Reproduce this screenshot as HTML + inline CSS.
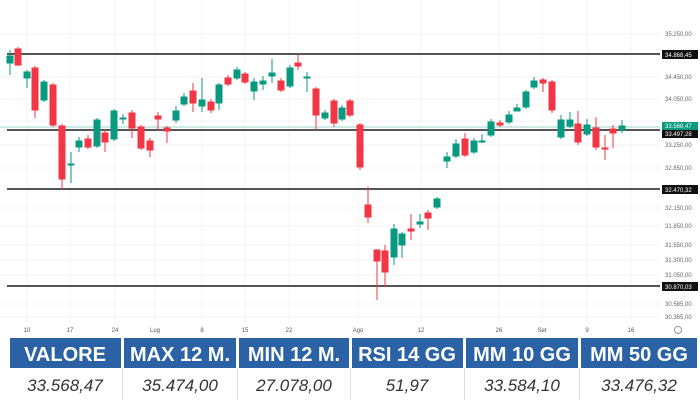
<!DOCTYPE html>
<html><head><meta charset="utf-8"><style>
body{margin:0;width:700px;height:400px;background:#fff;overflow:hidden;font-family:"Liberation Sans",sans-serif}
</style></head><body>
<svg width="700" height="400" xmlns="http://www.w3.org/2000/svg" font-family="Liberation Sans, sans-serif">
<g stroke="#f3f3f6" stroke-width="1">
<line x1="27" y1="0" x2="27" y2="322"/><line x1="70" y1="0" x2="70" y2="322"/><line x1="115" y1="0" x2="115" y2="322"/><line x1="155" y1="0" x2="155" y2="322"/><line x1="202" y1="0" x2="202" y2="322"/><line x1="245" y1="0" x2="245" y2="322"/><line x1="289" y1="0" x2="289" y2="322"/><line x1="358" y1="0" x2="358" y2="322"/><line x1="421" y1="0" x2="421" y2="322"/><line x1="499" y1="0" x2="499" y2="322"/><line x1="542" y1="0" x2="542" y2="322"/><line x1="587" y1="0" x2="587" y2="322"/><line x1="631" y1="0" x2="631" y2="322"/>
<line x1="0" y1="34" x2="660" y2="34"/><line x1="0" y1="77" x2="660" y2="77"/><line x1="0" y1="99" x2="660" y2="99"/><line x1="0" y1="121" x2="660" y2="121"/><line x1="0" y1="145" x2="660" y2="145"/><line x1="0" y1="168" x2="660" y2="168"/><line x1="0" y1="208" x2="660" y2="208"/><line x1="0" y1="226" x2="660" y2="226"/><line x1="0" y1="245" x2="660" y2="245"/><line x1="0" y1="260" x2="660" y2="260"/><line x1="0" y1="275" x2="660" y2="275"/><line x1="0" y1="304" x2="660" y2="304"/><line x1="0" y1="317" x2="660" y2="317"/>
</g>
<line x1="0" y1="127" x2="660" y2="127" stroke="#9fd6cb" stroke-width="1"/>
<g stroke="#555" stroke-width="2">
<line x1="7" y1="54" x2="660" y2="54"/><line x1="7" y1="130" x2="660" y2="130"/><line x1="7" y1="189" x2="660" y2="189"/><line x1="7" y1="286" x2="660" y2="286"/>
</g>
<g id="c">
<!-- green -->
<g fill="#089981" stroke="#089981">
<line x1="10" y1="50" x2="10" y2="75"/><rect x="7" y="56" width="6" height="7"/>
<line x1="27" y1="70" x2="27" y2="88"/><rect x="24" y="72" width="6" height="6"/>
<line x1="44" y1="80" x2="44" y2="102"/><rect x="41" y="82" width="6" height="18"/>
<line x1="71" y1="152" x2="71" y2="183"/><rect x="68" y="164" width="6" height="1"/>
<line x1="79" y1="137" x2="79" y2="152"/><rect x="76" y="141" width="6" height="6"/>
<line x1="97" y1="118" x2="97" y2="148"/><rect x="94" y="120" width="6" height="26"/>
<line x1="114" y1="109" x2="114" y2="141"/><rect x="111" y="111" width="6" height="28"/>
<line x1="123" y1="114" x2="123" y2="124"/><rect x="120" y="118" width="6" height="1"/>
<line x1="176" y1="106" x2="176" y2="123"/><rect x="173" y="111" width="6" height="9"/>
<line x1="184" y1="93" x2="184" y2="106"/><rect x="181" y="97" width="6" height="7"/>
<line x1="202" y1="78" x2="202" y2="112"/><rect x="199" y="100" width="6" height="6"/>
<line x1="219" y1="83" x2="219" y2="110"/><rect x="216" y="85" width="6" height="18"/>
<line x1="237" y1="67" x2="237" y2="80"/><rect x="234" y="70" width="6" height="8"/>
<line x1="254" y1="78" x2="254" y2="100"/><rect x="251" y="82" width="6" height="9"/>
<line x1="263" y1="76" x2="263" y2="90"/><rect x="260" y="81" width="6" height="3"/>
<line x1="272" y1="59" x2="272" y2="83"/><rect x="269" y="73" width="6" height="3"/>
<line x1="290" y1="65" x2="290" y2="88"/><rect x="287" y="68" width="6" height="18"/>
<line x1="307" y1="72" x2="307" y2="92"/><rect x="304" y="77" width="6" height="1"/>
<line x1="325" y1="110" x2="325" y2="120"/><rect x="322" y="113" width="6" height="5"/>
<line x1="342" y1="105" x2="342" y2="121"/><rect x="339" y="108" width="6" height="11"/>
<line x1="394" y1="224" x2="394" y2="265"/><rect x="391" y="229" width="6" height="28"/>
<line x1="402" y1="232" x2="402" y2="258"/><rect x="399" y="234" width="6" height="11"/>
<line x1="420" y1="214" x2="420" y2="228"/><rect x="417" y="222" width="6" height="2"/>
<line x1="437" y1="197" x2="437" y2="209"/><rect x="434" y="199" width="6" height="8"/>
<line x1="447" y1="152" x2="447" y2="168"/><rect x="444" y="157" width="6" height="4"/>
<line x1="456" y1="139" x2="456" y2="158"/><rect x="453" y="144" width="6" height="12"/>
<line x1="474" y1="138" x2="474" y2="154"/><rect x="471" y="141" width="6" height="11"/>
<line x1="482" y1="134" x2="482" y2="143"/><rect x="479" y="141" width="6" height="1"/>
<line x1="491" y1="119" x2="491" y2="137"/><rect x="488" y="122" width="6" height="13"/>
<line x1="509" y1="111" x2="509" y2="124"/><rect x="506" y="115" width="6" height="7"/>
<line x1="517" y1="104" x2="517" y2="111"/><rect x="514" y="108" width="6" height="3"/>
<line x1="526" y1="90" x2="526" y2="109"/><rect x="523" y="92" width="6" height="15"/>
<line x1="534" y1="77" x2="534" y2="89"/><rect x="531" y="81" width="6" height="6"/>
<line x1="561" y1="115" x2="561" y2="139"/><rect x="558" y="120" width="6" height="17"/>
<line x1="570" y1="112" x2="570" y2="128"/><rect x="567" y="120" width="6" height="6"/>
<line x1="587" y1="119" x2="587" y2="136"/><rect x="584" y="125" width="6" height="9"/>
<line x1="622" y1="120" x2="622" y2="133"/><rect x="619" y="126" width="6" height="4"/>
</g>
<g fill="#f23645" stroke="#f23645">
<line x1="18" y1="47" x2="18" y2="66"/><rect x="15" y="49" width="6" height="16"/>
<line x1="35" y1="66" x2="35" y2="118"/><rect x="32" y="68" width="6" height="42"/>
<line x1="53" y1="83" x2="53" y2="127"/><rect x="50" y="85" width="6" height="40"/>
<line x1="62" y1="124" x2="62" y2="190"/><rect x="59" y="126" width="6" height="53"/>
<line x1="88" y1="135" x2="88" y2="149"/><rect x="85" y="139" width="6" height="8"/>
<line x1="105" y1="129" x2="105" y2="152"/><rect x="102" y="133" width="6" height="9"/>
<line x1="132" y1="110" x2="132" y2="138"/><rect x="129" y="113" width="6" height="15"/>
<line x1="141" y1="125" x2="141" y2="150"/><rect x="138" y="127" width="6" height="21"/>
<line x1="150" y1="138" x2="150" y2="157"/><rect x="147" y="141" width="6" height="9"/>
<line x1="158" y1="112" x2="158" y2="130"/><rect x="155" y="116" width="6" height="3"/>
<line x1="167" y1="126" x2="167" y2="143"/><rect x="164" y="128" width="6" height="3"/>
<line x1="193" y1="83" x2="193" y2="112"/><rect x="190" y="91" width="6" height="12"/>
<line x1="211" y1="99" x2="211" y2="113"/><rect x="208" y="102" width="6" height="8"/>
<line x1="228" y1="75" x2="228" y2="86"/><rect x="225" y="78" width="6" height="6"/>
<line x1="245" y1="72" x2="245" y2="84"/><rect x="242" y="74" width="6" height="8"/>
<line x1="281" y1="78" x2="281" y2="92"/><rect x="278" y="81" width="6" height="9"/>
<line x1="298" y1="54" x2="298" y2="70"/><rect x="295" y="63" width="6" height="3"/>
<line x1="316" y1="87" x2="316" y2="130"/><rect x="313" y="89" width="6" height="26"/>
<line x1="334" y1="99" x2="334" y2="127"/><rect x="331" y="101" width="6" height="22"/>
<line x1="350" y1="99" x2="350" y2="117"/><rect x="347" y="101" width="6" height="14"/>
<line x1="360" y1="123" x2="360" y2="170"/><rect x="357" y="125" width="6" height="42"/>
<line x1="368" y1="187" x2="368" y2="223"/><rect x="365" y="205" width="6" height="12"/>
<line x1="377" y1="250" x2="377" y2="300"/><rect x="374" y="250" width="6" height="11"/>
<line x1="385" y1="245" x2="385" y2="287"/><rect x="382" y="251" width="6" height="21"/>
<line x1="411" y1="214" x2="411" y2="240"/><rect x="408" y="229" width="6" height="2"/>
<line x1="428" y1="210" x2="428" y2="230"/><rect x="425" y="213" width="6" height="5"/>
<line x1="465" y1="133" x2="465" y2="157"/><rect x="462" y="139" width="6" height="16"/>
<line x1="500" y1="120" x2="500" y2="127"/><rect x="497" y="123" width="6" height="2"/>
<line x1="543" y1="78" x2="543" y2="92"/><rect x="540" y="80" width="6" height="3"/>
<line x1="552" y1="80" x2="552" y2="113"/><rect x="549" y="82" width="6" height="28"/>
<line x1="578" y1="111" x2="578" y2="145"/><rect x="575" y="124" width="6" height="18"/>
<line x1="596" y1="117" x2="596" y2="150"/><rect x="593" y="128" width="6" height="19"/>
<line x1="605" y1="135" x2="605" y2="160"/><rect x="602" y="148" width="6" height="1"/>
<line x1="613" y1="125" x2="613" y2="148"/><rect x="610" y="129" width="6" height="4"/>
</g>
</g>
<g font-size="6" fill="#666">
<text x="665" y="36">35.250,00</text><text x="665" y="79">34.450,00</text><text x="665" y="101">34.050,00</text><text x="665" y="147">33.250,00</text><text x="665" y="170">32.850,00</text><text x="665" y="210">32.150,00</text><text x="665" y="228">31.850,00</text><text x="665" y="247">31.550,00</text><text x="665" y="262">31.300,00</text><text x="665" y="277">31.050,00</text><text x="665" y="306">30.585,00</text><text x="665" y="319">30.365,00</text>
</g>
<rect x="662" y="50" width="36" height="9" fill="#111"/><text x="665" y="57" font-size="6" fill="#fff">34.868,45</text>
<rect x="662" y="122" width="36" height="8" fill="#089981"/><text x="665" y="128" font-size="6" fill="#fff">33.568,47</text>
<rect x="662" y="130" width="36" height="8" fill="#111"/><text x="665" y="136" font-size="6" fill="#fff">33.497,28</text>
<rect x="662" y="185" width="36" height="9" fill="#111"/><text x="665" y="192" font-size="6" fill="#fff">32.470,32</text>
<rect x="662" y="282" width="36" height="9" fill="#111"/><text x="665" y="289" font-size="6" fill="#fff">30.870,03</text>
<g font-size="6" fill="#555" text-anchor="middle">
<text x="27" y="332">10</text><text x="70" y="332">17</text><text x="115" y="332">24</text><text x="155" y="332">Lug</text><text x="202" y="332">8</text><text x="245" y="332">15</text><text x="289" y="332">22</text><text x="358" y="332">Ago</text><text x="421" y="332">12</text><text x="499" y="332">26</text><text x="542" y="332">Set</text><text x="587" y="332">9</text><text x="631" y="332">16</text>
</g>
<circle cx="678" cy="330" r="3.5" fill="none" stroke="#777" stroke-width="0.8"/>
<g fill="#2b62a5">
<rect x="10" y="338" width="111" height="30"/><rect x="124" y="338" width="112" height="30"/><rect x="239" y="338" width="110" height="30"/><rect x="352" y="338" width="111" height="30"/><rect x="466" y="338" width="112" height="30"/><rect x="581" y="338" width="116" height="30"/>
</g>
<g stroke="#e0e0e0"><line x1="122.5" y1="368" x2="122.5" y2="400"/><line x1="237.5" y1="368" x2="237.5" y2="400"/><line x1="350.5" y1="368" x2="350.5" y2="400"/><line x1="464.5" y1="368" x2="464.5" y2="400"/><line x1="579.5" y1="368" x2="579.5" y2="400"/></g>
<g font-size="20" font-weight="bold" fill="#fff" text-anchor="middle">
<text x="65" y="361">VALORE</text><text x="180" y="361">MAX 12 M.</text><text x="294" y="361">MIN 12 M.</text><text x="407" y="361">RSI 14 GG</text><text x="522" y="361">MM 10 GG</text><text x="639" y="361">MM 50 GG</text>
</g>
<g font-size="17" font-style="italic" fill="#333" text-anchor="middle">
<text x="65" y="391">33.568,47</text><text x="180" y="391">35.474,00</text><text x="294" y="391">27.078,00</text><text x="407" y="391">51,97</text><text x="522" y="391">33.584,10</text><text x="639" y="391">33.476,32</text>
</g>
</svg>
</body></html>
